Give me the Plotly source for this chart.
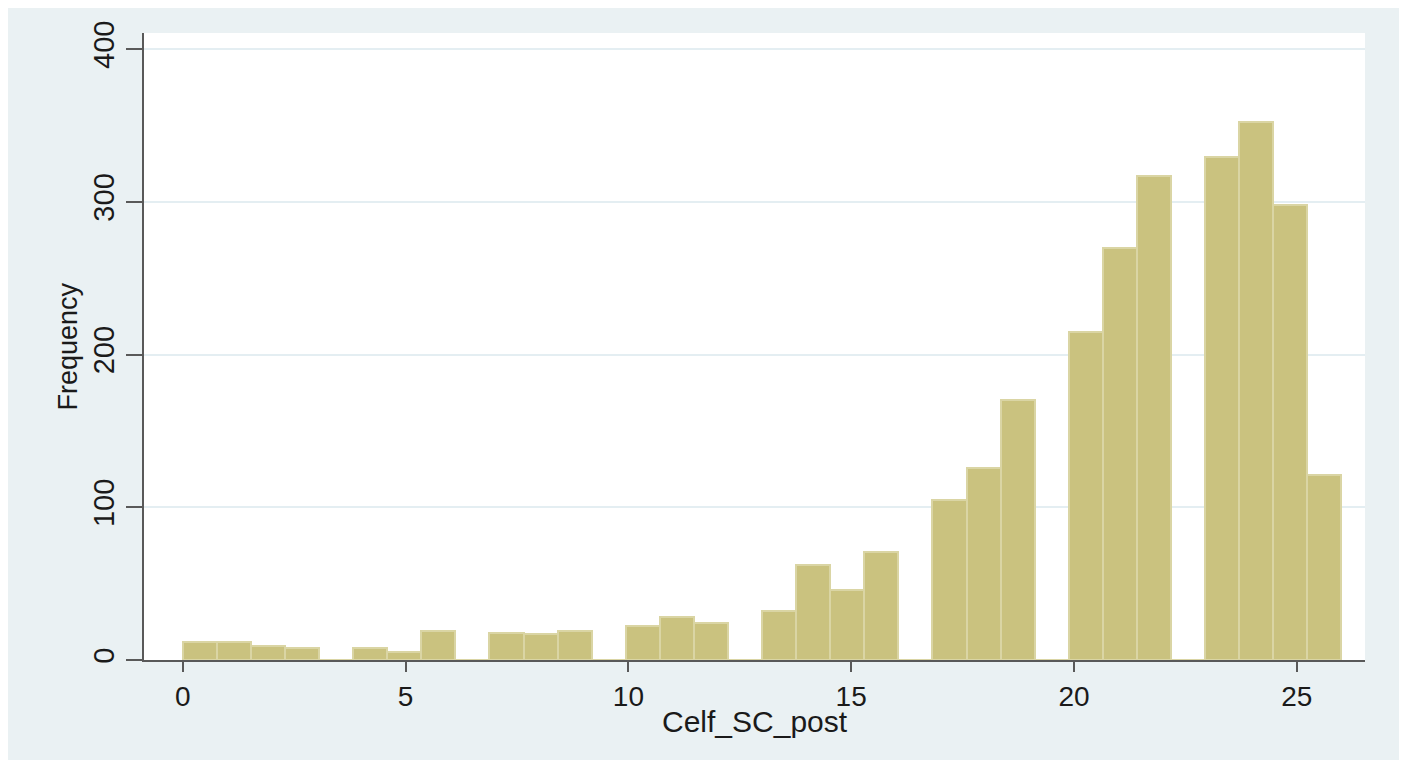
import plotly.graph_objects as go

# Histogram data (Stata-style histogram of Celf_SC_post)
bin_start = 0.0
bin_width = 26.0 / 34
counts = [12, 12, 9, 8, 0, 8, 5, 19, 0, 18, 17, 19, 0, 22, 28, 24, 0,
          32, 62, 46, 71, 0, 105, 126, 170, 0, 215, 270, 317, 0, 329, 352, 298, 121]
x_ticks = [0, 5, 10, 15, 20, 25]
y_ticks = [0, 100, 200, 300, 400]
x_title = "Celf_SC_post"
y_title = "Frequency"

centers = [bin_start + (i + 0.5) * bin_width for i in range(len(counts))]

# the page body adds an 8px offset, so figure coords = page coords - 8
OFF = 8
W, H = 1407 - OFF, 760 - OFF
L, R, T, B = 144 - OFF, 1365 - OFF, 33 - OFF, 660 - OFF

BAR = "#CAC27F"
BAR_EDGE = "#DAD5A4"
BG = "#EAF1F3"
AX = "#595959"
TXT = "#1a1a1a"
FONT = "Liberation Sans, Arial, sans-serif"

fig = go.Figure()
fig.add_trace(go.Bar(
    x=centers, y=counts, width=[bin_width] * len(counts),
    marker=dict(color=BAR, line=dict(color=BAR_EDGE, width=2)),
    hoverinfo="x+y", showlegend=False,
))

pw, ph = R - L, B - T

fig.update_layout(
    width=W, height=H,
    margin=dict(l=L, r=W - R, t=T, b=H - B, pad=0),
    paper_bgcolor=BG, plot_bgcolor="white",
    font=dict(family=FONT, color=TXT),
    bargap=0,
    xaxis=dict(
        range=[-0.87, 26.53], tickvals=x_ticks, ticktext=[str(v) for v in x_ticks],
        showgrid=False, zeroline=False,
        showline=True, linecolor=AX, linewidth=2,
        ticks="outside", ticklen=10, tickwidth=2, tickcolor=AX,
        tickfont=dict(size=28, family=FONT, color=TXT),
    ),
    yaxis=dict(
        range=[0, 410.5], tickvals=y_ticks, ticktext=[str(v) for v in y_ticks],
        tickangle=-90,
        showgrid=True, gridcolor="#E4EEF2", gridwidth=1.5, zeroline=False,
        showline=True, linecolor=AX, linewidth=2,
        ticks="outside", ticklen=16, tickwidth=2, tickcolor=AX,
        tickfont=dict(size=29, family=FONT, color=TXT),
    ),
    annotations=[
        dict(text=x_title, xref="paper", yref="paper", x=0.5, y=-(721 - OFF - B) / ph,
             xanchor="center", yanchor="middle", showarrow=False,
             font=dict(size=30, family=FONT, color=TXT)),
        dict(text=y_title, xref="paper", yref="paper", x=-(L - (67 - OFF)) / pw, y=0.5,
             xanchor="center", yanchor="middle", textangle=-90, showarrow=False,
             font=dict(size=27, family=FONT, color=TXT)),
    ],
    shapes=[
        # thin white strip at the right edge, as in the reference frame
        dict(type="rect", xref="paper", yref="paper",
             x0=(1400 - OFF - L) / pw, x1=(W - L) / pw + 0.01,
             y0=-(H - B) / ph - 0.01, y1=B / ph + 0.01,
             fillcolor="white", line=dict(width=0), layer="above"),
    ],
)

fig.write_html("out.html")
